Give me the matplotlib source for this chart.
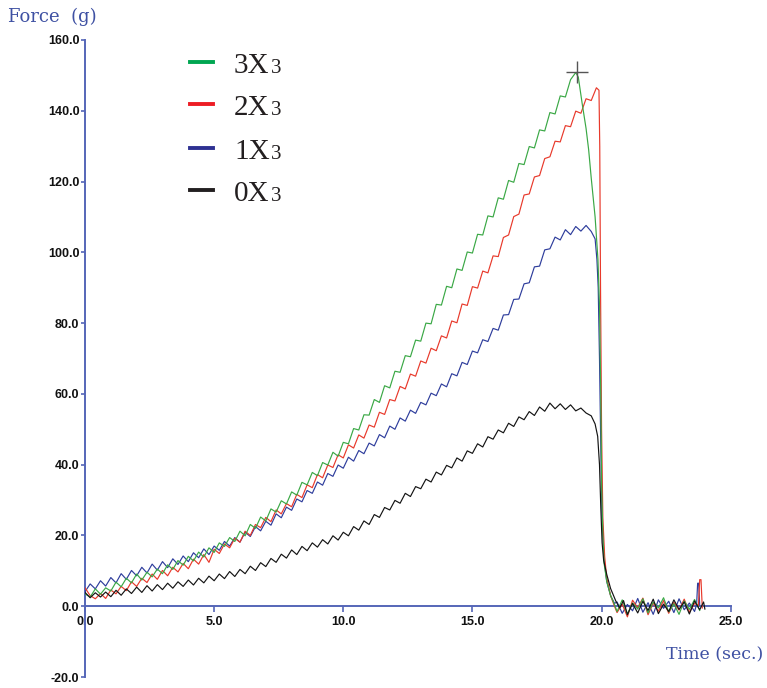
import numpy as np
import matplotlib
matplotlib.use("Agg")
import matplotlib.pyplot as plt
from matplotlib.lines import Line2D

# ---------------- data ----------------
# common sampling grid of the rising part: 0.0 .. 18.8 s, 0.2 s step
sample_step = 0.2

green_rise = [3.5, 2.6, 4.9, 3.4, 5.2, 4.3, 6.8, 5.5, 7.9, 6.6,
              9.1, 7.4, 9.6, 8.3, 10.5, 9.2, 11.7, 10.4, 12.9, 11.6,
              14.1, 12.8, 15.3, 13.9, 16.5, 15.2, 17.9, 16.9, 19.4, 18.3,
              21.2, 19.9, 23.1, 22.0, 25.2, 24.1, 27.5, 26.6, 29.8, 28.9,
              32.3, 31.4, 35.0, 34.3, 37.8, 36.9, 40.6, 39.9, 43.5, 42.4,
              46.3, 45.9, 50.2, 49.8, 54.1, 54.0, 58.4, 57.6, 62.3, 61.7,
              66.4, 66.1, 70.8, 70.5, 75.2, 74.9, 80.0, 79.8, 85.3, 85.1,
              90.4, 90.0, 95.3, 94.9, 100.1, 99.8, 105.1, 104.9, 110.3, 110.0,
              115.4, 115.0, 120.3, 119.8, 125.1, 124.8, 129.9, 129.5, 134.6, 134.3,
              139.5, 139.1, 144.2, 143.9, 148.8]
red_rise = [5.2, 3.0, 2.1, 3.6, 2.2, 4.6, 3.5, 5.6, 4.4, 6.9,
            5.6, 7.9, 6.7, 9.1, 7.6, 10.1, 8.6, 11.0, 9.7, 12.1,
            10.6, 13.3, 11.9, 14.6, 12.4, 16.1, 14.9, 17.6, 16.5, 19.2,
            18.1, 21.2, 20.0, 23.1, 22.2, 25.1, 23.9, 27.2, 26.1, 29.0,
            28.1, 31.6, 30.7, 34.3, 33.5, 37.2, 36.3, 39.9, 39.2, 42.8,
            41.9, 45.6, 44.7, 48.4, 47.5, 51.2, 50.6, 54.8, 54.2, 58.4,
            58.0, 62.1, 61.4, 65.6, 65.0, 69.3, 68.7, 72.9, 72.2, 76.4,
            75.8, 80.6, 80.1, 85.4, 85.0, 90.3, 89.9, 94.7, 94.2, 99.0,
            98.8, 104.2, 104.9, 110.1, 110.8, 116.2, 116.5, 121.3, 121.7, 126.5,
            127.0, 131.4, 131.2, 135.8, 135.5]
blue_rise = [4.1, 6.3, 4.9, 7.2, 5.7, 8.1, 6.6, 9.2, 7.6, 10.1,
             8.6, 11.0, 9.4, 11.9, 10.2, 12.6, 10.9, 13.4, 11.8, 14.2,
             12.6, 15.1, 13.7, 16.2, 14.6, 17.0, 15.8, 18.3, 17.0, 19.4,
             18.1, 20.9, 19.7, 22.5, 21.3, 24.0, 22.9, 26.1, 25.0, 28.0,
             27.1, 30.3, 29.5, 32.7, 31.9, 35.1, 34.2, 37.5, 36.7, 39.9,
             39.0, 42.1, 41.0, 44.0, 43.1, 46.1, 45.3, 48.5, 47.6, 50.9,
             50.0, 53.2, 52.3, 55.4, 54.5, 57.6, 56.9, 60.2, 59.5, 62.8,
             62.0, 65.7, 65.1, 68.9, 68.3, 72.1, 71.6, 75.3, 74.8, 78.5,
             78.0, 82.3, 82.4, 86.7, 86.8, 91.1, 91.4, 95.9, 96.1, 100.7,
             101.0, 104.3, 103.5, 106.4, 105.0]
black_rise = [3.9, 2.4, 3.8, 2.6, 4.0, 2.7, 4.5, 3.1, 4.9, 3.6,
              5.4, 3.9, 5.8, 4.3, 6.1, 4.7, 6.5, 5.1, 6.9, 5.6,
              7.4, 6.0, 7.9, 6.6, 8.5, 7.2, 9.1, 7.8, 9.8, 8.4,
              10.4, 9.2, 11.3, 10.1, 12.3, 11.2, 13.5, 12.4, 14.7, 13.6,
              15.9, 14.6, 16.9, 15.7, 17.9, 16.7, 18.8, 17.6, 19.9, 18.7,
              20.9, 19.9, 22.5, 21.5, 24.1, 23.1, 25.9, 25.1, 27.9, 27.2,
              29.9, 29.1, 31.9, 31.0, 33.8, 33.2, 35.9, 35.1, 37.9, 37.1,
              39.8, 39.1, 41.9, 41.0, 43.9, 43.2, 45.9, 45.0, 47.9, 47.2,
              49.8, 49.0, 51.7, 50.8, 53.5, 52.7, 55.0, 53.9, 56.3, 55.1,
              57.4, 55.8, 57.2, 55.6, 56.9]

# tails (peak, drop and flat part after the break)
green_tail_t = [19.0, 19.1, 19.25, 19.4, 19.5, 19.6, 19.75, 19.86, 19.92, 19.97,
                20.0, 20.05, 20.1, 20.2, 20.35, 20.5, 20.6, 20.8, 21.0, 21.2,
                21.4, 21.6, 21.8, 22.0, 22.2, 22.4, 22.6, 22.8, 23.0, 23.2,
                23.4, 23.6, 23.8]
green_tail_f = [150.8, 149.5, 142.0, 135.0, 129.0, 121.0, 110.0, 98.0, 85.0, 60.0,
                35.0, 20.0, 12.0, 7.0, 3.0, 0.5, -1.5, 1.8, -2.2, 0.9,
                -0.8, 2.1, -1.9, 1.2, -0.5, 2.4, -1.6, 0.7, -2.3, 1.5,
                -0.9, 1.9, -1.2]
red_tail_t = [19.0, 19.2, 19.4, 19.6, 19.8, 19.9, 19.93, 19.96, 20.0, 20.05,
              20.12, 20.2, 20.35, 20.5, 20.6, 20.8, 21.0, 21.2, 21.4, 21.6,
              21.8, 22.0, 22.2, 22.4, 22.6, 22.8, 23.0, 23.2, 23.4, 23.6,
              23.75, 23.8, 23.85, 23.9]
red_tail_f = [139.9, 139.3, 143.4, 142.9, 146.5, 145.8, 130.0, 90.0, 50.0, 25.0,
              14.0, 8.0, 3.0, 0.0, -1.8, 0.6, -3.0, 1.7, -0.4, 2.3,
              -2.4, 0.9, -1.4, 1.6, -2.0, 1.1, -1.1, 2.0, -1.7, 0.8,
              0.2, 7.5, 7.5, -0.5]
blue_tail_t = [19.0, 19.2, 19.4, 19.6, 19.75, 19.82, 19.87, 19.92, 19.97, 20.02,
               20.1, 20.2, 20.35, 20.5, 20.6, 20.8, 21.0, 21.2, 21.4, 21.6,
               21.8, 22.0, 22.2, 22.4, 22.6, 22.8, 23.0, 23.2, 23.4, 23.6,
               23.68, 23.72, 23.76, 23.8]
blue_tail_f = [107.3, 106.0, 107.6, 105.9, 103.8, 98.0, 90.0, 70.0, 45.0, 25.0,
               13.0, 7.0, 3.0, 0.8, 1.2, -2.0, 0.5, -1.3, 2.2, -1.7,
               1.0, -2.3, 1.8, -0.6, 1.4, -1.8, 2.1, -1.0, 0.9, -1.5,
               0.5, 6.5, 6.5, 0.3]
black_tail_t = [19.0, 19.2, 19.4, 19.6, 19.75, 19.85, 19.92, 19.97, 20.02, 20.08,
                20.2, 20.35, 20.55, 20.7, 20.85, 21.0, 21.2, 21.4, 21.6, 21.8,
                22.0, 22.2, 22.4, 22.6, 22.8, 23.0, 23.2, 23.4, 23.6, 23.8,
                23.95, 24.0]
black_tail_f = [55.2, 56.0, 54.6, 53.8, 51.5, 48.0, 40.0, 28.0, 18.0, 13.0,
                9.0, 5.0, 1.5, -0.5, 1.6, -2.4, 0.8, -1.9, 1.4, -1.2,
                2.0, -2.1, 0.6, -1.5, 1.8, -0.9, 1.2, -2.2, 1.5, -1.0,
                1.2, -0.8]

peak_t, peak_f = 19.05, 151.0

series_names = ["3X", "2X", "1X", "0X"]
subscripts = ["3", "3", "3", "3"]
x_ticks = [0, 5, 10, 15, 20, 25]
y_ticks = [-20, 0, 20, 40, 60, 80, 100, 120, 140, 160]

# ---------------- styling ----------------
W, H = 767, 688
axis_color = "#5566b8"
label_color = "#3f51a3"
line_colors = {"green": "#3aa845", "red": "#e8392b", "blue": "#2e3d9c", "black": "#141414"}
legend_colors = ["#00a651", "#ed1c24", "#2e3192", "#231f20"]

fig = plt.figure(figsize=(W / 100, H / 100), dpi=100)
fig.patch.set_facecolor("white")
ax = fig.add_axes([85 / W, 11 / H, 645.7 / W, 637 / H])
ax.set_facecolor("white")

t_rise = np.arange(len(green_rise)) * sample_step

def full(rise, tt, ff):
    return np.concatenate([t_rise, tt]), np.concatenate([rise, ff])

lw = 0.85
for rise, tt, ff, c in [(blue_rise, blue_tail_t, blue_tail_f, "blue"),
                        (red_rise, red_tail_t, red_tail_f, "red"),
                        (green_rise, green_tail_t, green_tail_f, "green"),
                        (black_rise, black_tail_t, black_tail_f, "black")]:
    x, y = full(rise, tt, ff)
    ax.plot(x, y, color=line_colors[c], lw=lw, zorder=3)

ax.plot([peak_t], [peak_f], marker="+", markersize=16, mew=1.0, color="#555555", zorder=5)

ax.set_xlim(0, 25)
ax.set_ylim(-20, 160)
ax.spines["top"].set_visible(False)
ax.spines["right"].set_visible(False)
ax.spines["bottom"].set_position(("data", 0))
for s in ["left", "bottom"]:
    ax.spines[s].set_color(axis_color)
    ax.spines[s].set_linewidth(1.4)

ax.set_xticks(x_ticks)
ax.set_yticks(y_ticks)
ax.set_xticklabels([f"{v:.1f}" for v in x_ticks])
ax.set_yticklabels([f"{v:.1f}" for v in y_ticks])
ax.tick_params(axis="x", direction="out", length=4, width=1.2, color=axis_color, pad=3)
ax.tick_params(axis="y", direction="out", length=3, width=1.2, color=axis_color, pad=1)
for lab in ax.get_xticklabels() + ax.get_yticklabels():
    lab.set_fontfamily("Liberation Sans")
    lab.set_fontweight("bold")
    lab.set_fontsize(9)
    lab.set_color("#111111")

fig.text(8 / W, 1 - 17 / H, "Force  (g)", fontsize=13, family="DejaVu Serif",
         color=label_color, ha="left", va="center")
fig.text(763 / W, 1 - 655 / H, "Time (sec.)", fontsize=12.5, family="DejaVu Serif",
         color=label_color, ha="right", va="center")

# legend
row_y = [62, 104, 148, 190]
for name, sub, col, yy in zip(series_names, subscripts, legend_colors, row_y):
    fig.add_artist(Line2D([190 / W, 213 / W], [1 - yy / H, 1 - yy / H], color=col, lw=2.8))
    fig.text(234 / W, 1 - (yy + 11) / H, name, fontsize=21, family="Liberation Serif",
             color="#231f20", ha="left", va="baseline")
    fig.text(271 / W, 1 - (yy + 11) / H, sub, fontsize=15, family="Liberation Serif",
             color="#231f20", ha="left", va="baseline")

fig.savefig("out.png", dpi=100, facecolor="white")
